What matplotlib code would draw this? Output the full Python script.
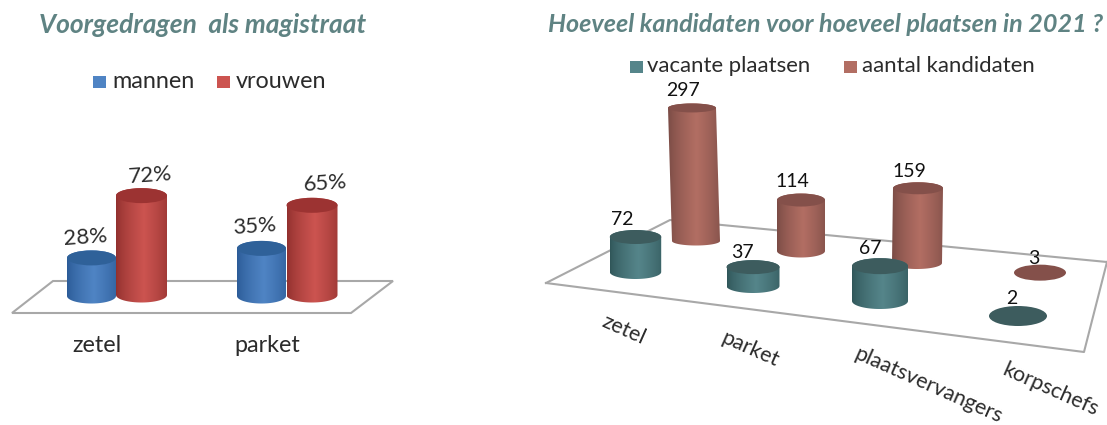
import numpy as np
import matplotlib
matplotlib.use("Agg")
import matplotlib.pyplot as plt
from matplotlib.patches import Ellipse, Polygon, Rectangle, PathPatch
from matplotlib.path import Path
from matplotlib.colors import to_rgb

# ---- data ----
left_title = "Voorgedragen  als magistraat"
left_series = ["mannen", "vrouwen"]
left_categories = ["zetel", "parket"]
mannen = [28, 35]
vrouwen = [72, 65]

right_title = "Hoeveel kandidaten voor hoeveel plaatsen in 2021 ?"
right_series = ["vacante plaatsen", "aantal kandidaten"]
right_categories = ["zetel", "parket", "plaatsvervangers", "korpschefs"]
vacante = [72, 37, 67, 2]
kandidaten = [297, 114, 159, 3]

# ---- layout (pixels) ----
FONT = "Lato"
TITLE_COL = "#5f8383"
TEXT_COL = "#2b2b2b"
BLUE = ("#4f84c4", "#2a5a96", "#2f6199")
RED = ("#cc5450", "#8f2f2d", "#9c3332")
TEAL = ("#55858a", "#2f5558", "#3d5c5e")
BROWN = ("#b26e63", "#784a44", "#84504a")

fig = plt.figure(figsize=(11.07, 4.25), dpi=100, facecolor="white")
ax = fig.add_axes([0, 0, 1, 1])
ax.set_xlim(0, 1107)
ax.set_ylim(425, 0)
ax.axis("off")


def cylinder(cx, base, rx, ry, value, scale, cols, z, lean=0.0):
    """Shaded cylinder standing on (cx, base); its height is value*scale."""
    mid, edge, top = cols
    h = value * scale
    yt = base - h
    cxt = cx - lean
    t = np.linspace(0, np.pi, 40)
    bottom_arc = np.column_stack([cx + rx * np.cos(t), base + ry * np.sin(t)])
    top_arc = np.column_stack([cxt - rx * np.cos(t), yt - ry * np.sin(t)])
    xy = np.vstack([bottom_arc, top_arc, bottom_arc[:1]])
    if h > 4:
        m, e = np.array(to_rgb(mid)), np.array(to_rgb(edge))
        u = np.linspace(0, 1, 120)
        w = np.clip(1 - np.abs(u - 0.55) / 0.55, 0, 1) ** 0.7
        img = (e[None] + (m - e)[None] * w[:, None])[None, :, :]
        x0, x1 = min(cx, cxt) - rx, max(cx, cxt) + rx
        im = ax.imshow(img, extent=[x0, x1, base + ry + 1, yt - ry - 1],
                       aspect="auto", zorder=z, interpolation="bilinear")
        clip = PathPatch(Path(xy), transform=ax.transData, fc="none", ec="none")
        ax.add_patch(clip)
        im.set_clip_path(clip)
    ax.add_patch(Ellipse((cxt, yt), 2 * rx, 2 * ry, fc=top, ec="none", zorder=z + 0.1))


def txt(x, y, s, size, rot=0, **kw):
    kw.setdefault("color", TEXT_COL)
    ax.text(x, y, s, fontsize=size, rotation=rot, ha="center", va="center",
            family=FONT, rotation_mode="anchor", zorder=20, **kw)


# ---- left chart ----
txt(203, 25, left_title, 19, color=TITLE_COL, fontweight="bold", style="italic")
for (sx, tx_, name, col) in zip([93, 217], [153.5, 280.5], left_series, [BLUE, RED]):
    ax.add_patch(Rectangle((sx, 76), 13, 12, fc=col[0], ec="none"))
    txt(tx_, 81, name, 16.8)

ax.add_patch(Polygon([(12, 313), (53, 281), (393, 281), (351, 313)], closed=True,
                     fc="white", ec="#a8a8a8", lw=1.5, zorder=1))

left_cx = [[91.5, 261.5], [141.5, 312]]
for cx, v in zip(left_cx[0], mannen):
    cylinder(cx, 296, 24.5, 7.5, v, 1.36, BLUE, 3)
for cx, v in zip(left_cx[1], vrouwen):
    cylinder(cx, 295, 25.5, 7.5, v, 1.38, RED, 4)

for (x, y), v in zip([(85, 237), (254, 226)], mannen):
    txt(x, y, f"{v}%", 16, rot=4)
for (x, y), v in zip([(150, 175), (325, 183)], vrouwen):
    txt(x, y, f"{v}%", 16, rot=4)
for x, c in zip([97, 267], left_categories):
    txt(x, 345, c, 16.8)

# ---- right chart ----
txt(826, 24, right_title, 18.1, color=TITLE_COL, fontweight="bold", style="italic")
for (sx, tx_, name, col) in zip([630, 844], [728.5, 948], right_series, [TEAL, BROWN]):
    ax.add_patch(Rectangle((sx, 61), 13, 12, fc=col[0], ec="none"))
    txt(tx_, 66, name, 15.9)

ax.plot([546, 670, 1107], [283, 220, 262], color="#a8a8a8", lw=1.5, zorder=1.5, clip_on=False)
ax.plot([546, 1084, 1107], [283, 352, 262], color="#a8a8a8", lw=1.5, zorder=1.5, clip_on=False)

back_cx = [696, 801, 917, 1040]
back_base = [241, 251, 263, 274]
back_rx = [24, 24, 25, 26]
back_ry = [4.5, 6.5, 6, 8]
back_lean = [4, 0, -1, 0]
back_scale = [0.448, 0.447, 0.47, 0.45]
front_cx = [635.5, 753, 880, 1018]
front_base = [272, 286, 301, 317]
front_rx = [25.7, 26.5, 28, 29]
front_ry = [7, 7, 8, 10]
front_scale = [0.486, 0.51, 0.52, 0.5]

for i, v in enumerate(kandidaten):
    cylinder(back_cx[i], back_base[i], back_rx[i], back_ry[i], v, back_scale[i], BROWN, 3, back_lean[i])
for i, v in enumerate(vacante):
    cylinder(front_cx[i], front_base[i], front_rx[i], front_ry[i], v, front_scale[i], TEAL, 5)

for (x, y), v in zip([(683, 90), (792, 181), (909, 171), (1034, 258)], kandidaten):
    txt(x, y, str(v), 14, color="#111111")
for (x, y), v in zip([(622, 219), (742, 252), (870, 248), (1012, 298)], vacante):
    txt(x, y, str(v), 14, color="#111111")

for (x, y), c in zip([(624, 330), (750, 349), (929, 385), (1051, 390)], right_categories):
    txt(x, y, c, 15.5, rot=-24)

fig.savefig("out.png", dpi=100, facecolor="white")
